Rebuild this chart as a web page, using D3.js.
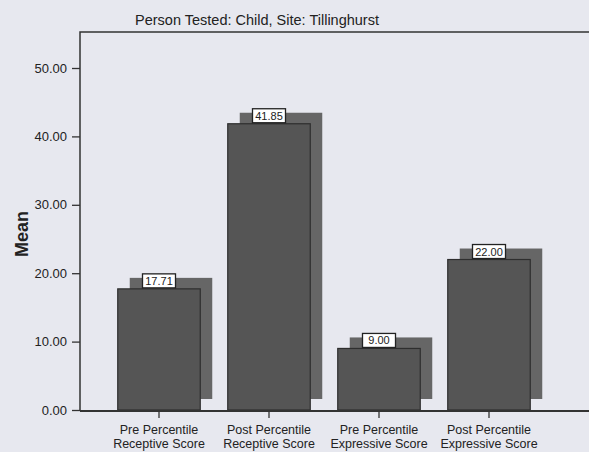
<!DOCTYPE html>
<html>
<head>
<meta charset="utf-8">
<script src="https://cdn.jsdelivr.net/npm/d3@7"></script>
<style>
  body { margin: 0; background: #e7e8ef; }
  text { font-family: Arial, "Liberation Sans", sans-serif; fill: #222; }
</style>
</head>
<body>
<div class="chart"></div>
<script>
// chart data
var categories = [
  ["Pre Percentile", "Receptive Score"],
  ["Post Percentile", "Receptive Score"],
  ["Pre Percentile", "Expressive Score"],
  ["Post Percentile", "Expressive Score"]
];
var means = [17.71, 41.85, 9.00, 22.00];
var yTicks = [0, 10, 20, 30, 40, 50];

var svgWidth = 589;
var svgHeight = 452;

var svg = d3.select(".chart")
  .append("svg")
  .attr("width", svgWidth)
  .attr("height", svgHeight);

// scales
var xScale = d3.scaleBand()
  .domain(d3.range(categories.length))
  .range([104, 544])
  .paddingInner(0.25)
  .paddingOuter(0.125);

var yScale = d3.scaleLinear()
  .domain([0, 50])
  .range([410, 68]);

// depth offset of the 3D shadow
var dx = 12, dy = -11;

// plot frame
svg.append("path")
  .attr("d", "M80,411 V32 H600")
  .attr("fill", "none")
  .attr("stroke", "#333")
  .attr("stroke-width", 1.5);

// title
svg.append("text")
  .attr("x", 257)
  .attr("y", 25)
  .attr("text-anchor", "middle")
  .style("font-size", "14.5px")
  .text("Person Tested: Child, Site: Tillinghurst");

// y axis
var leftAxis = d3.axisLeft(yScale)
  .tickValues(yTicks)
  .tickFormat(d3.format(".2f"))
  .tickSize(8)
  .tickPadding(5);

var yAxisG = svg.append("g")
  .attr("transform", "translate(80,0)")
  .attr("font-size", 13)
  .attr("font-family", "Arial, sans-serif")
  .call(leftAxis);
yAxisG.select(".domain").remove();
yAxisG.selectAll("line").attr("stroke", "#333").attr("stroke-width", 1.3);
yAxisG.selectAll("text")
  .style("font-size", "13px")
  .attr("fill", "#222");

// y axis label
svg.append("text")
  .attr("transform", "translate(28,234) rotate(-90)")
  .attr("text-anchor", "middle")
  .style("font-size", "18px")
  .style("font-weight", "bold")
  .text("Mean");

// shadow bars
svg.selectAll("rect.shadow")
  .data(means)
  .enter()
  .append("rect")
  .attr("class", "shadow")
  .attr("x", (d, i) => xScale(i) + dx)
  .attr("y", d => yScale(d) + dy)
  .attr("width", xScale.bandwidth())
  .attr("height", d => yScale(0) - yScale(d))
  .attr("fill", "#666");

// front bars
svg.selectAll("rect.bar")
  .data(means)
  .enter()
  .append("rect")
  .attr("class", "bar")
  .attr("x", (d, i) => xScale(i))
  .attr("y", d => yScale(d))
  .attr("width", xScale.bandwidth())
  .attr("height", d => yScale(0) - yScale(d))
  .attr("fill", "#555")
  .attr("stroke", "#2e2e2e")
  .attr("stroke-width", 1.2);

// x axis line
svg.append("line")
  .attr("x1", 80).attr("x2", 600)
  .attr("y1", 411).attr("y2", 411)
  .attr("stroke", "#333")
  .attr("stroke-width", 2);

// x ticks and labels
var xTick = svg.selectAll("g.xtick")
  .data(categories)
  .enter()
  .append("g")
  .attr("class", "xtick")
  .attr("transform", (d, i) => `translate(${xScale(i) + xScale.bandwidth() / 2},411)`);

xTick.append("line")
  .attr("y1", 0).attr("y2", 7)
  .attr("stroke", "#333")
  .attr("stroke-width", 1.3);

xTick.append("text")
  .attr("text-anchor", "middle")
  .style("font-size", "12.5px")
  .selectAll("tspan")
  .data(d => d)
  .enter()
  .append("tspan")
  .attr("x", 0)
  .attr("y", (d, j) => 23 + j * 13.5)
  .text(d => d);

// value labels
var valueLabel = svg.selectAll("g.vlabel")
  .data(means)
  .enter()
  .append("g")
  .attr("class", "vlabel")
  .attr("transform", (d, i) => `translate(${xScale(i) + xScale.bandwidth() / 2},${yScale(d)})`);

valueLabel.append("rect")
  .attr("x", -16.5)
  .attr("y", -15)
  .attr("width", 33)
  .attr("height", 14)
  .attr("fill", "#fff")
  .attr("stroke", "#222")
  .attr("stroke-width", 1.3);

valueLabel.append("text")
  .attr("y", -4)
  .attr("text-anchor", "middle")
  .style("font-size", "11px")
  .text(d => d3.format(".2f")(d));
</script>
</body>
</html>
